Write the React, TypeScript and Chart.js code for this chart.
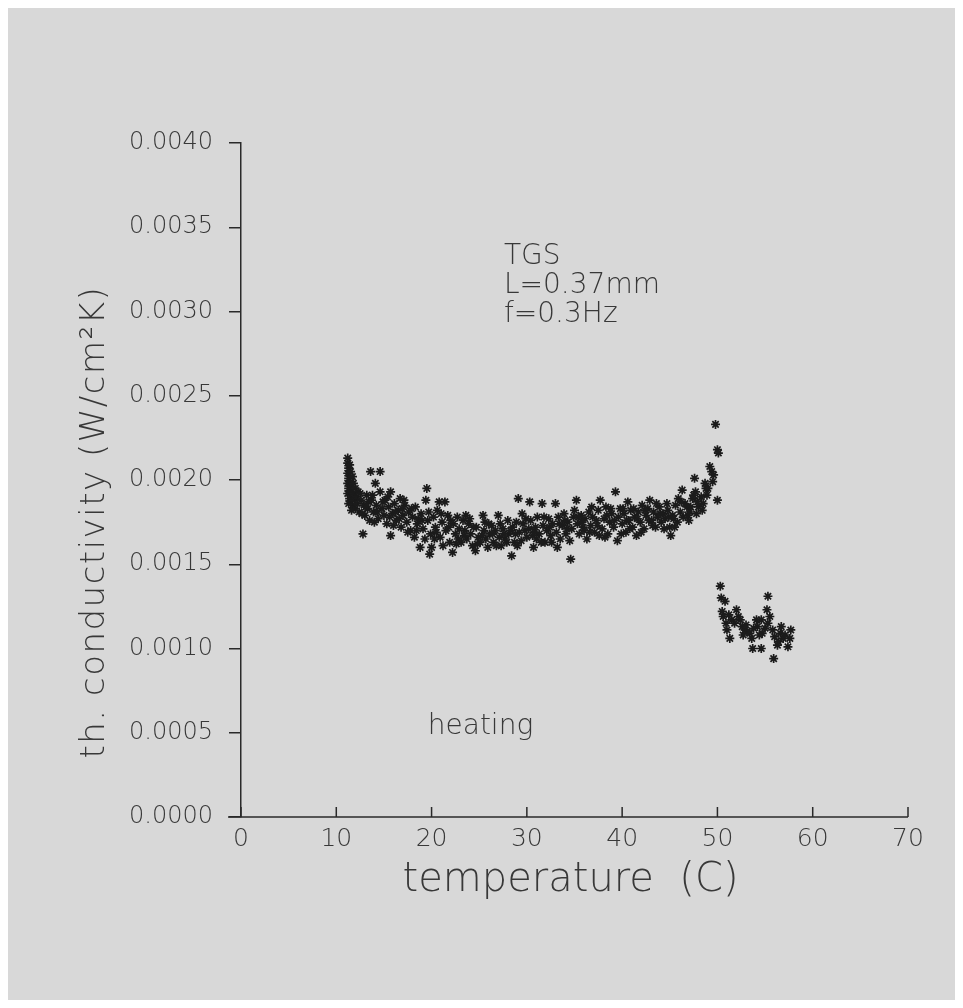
import React, { useEffect, useRef } from 'react';
import { Chart, registerables } from 'chart.js';

Chart.register(...registerables);

// temperature (C), th. conductivity (W/cm^2 K) — heating run, below transition
const heatingBelow: [number, number][] = [
  [11.2, 0.00213], [11.2, 0.0021], [11.3, 0.00207], [11.2, 0.00204], [11.3, 0.00201], [11.2, 0.00198],
  [11.3, 0.00195], [11.2, 0.00192], [11.4, 0.00189], [11.3, 0.00186], [11.4, 0.00209], [11.5, 0.00205],
  [11.5, 0.00199], [11.5, 0.00193], [11.6, 0.00196], [11.6, 0.00189], [11.7, 0.00202], [11.7, 0.00185],
  [11.8, 0.00198], [11.8, 0.00192], [11.9, 0.00188], [12.0, 0.00195], [12.0, 0.00183], [12.1, 0.0019],
  [12.2, 0.00186], [11.6, 0.00182], [12.3, 0.00193], [12.4, 0.00181],
  [12.6, 0.00188], [12.8, 0.00168], [12.9, 0.00185], [13.0, 0.00179], [13.2, 0.00191], [13.3, 0.00183],
  [13.5, 0.00176], [13.6, 0.00205], [13.7, 0.00188], [13.9, 0.00181], [14.1, 0.00198], [14.2, 0.00185],
  [14.4, 0.00177], [14.6, 0.00205], [14.6, 0.00193], [14.8, 0.00183], [15.0, 0.00179], [15.1, 0.00188],
  [15.3, 0.00174], [15.5, 0.00184], [15.7, 0.00193], [15.7, 0.00167], [15.9, 0.0018], [16.1, 0.00186],
  [16.3, 0.00176], [16.5, 0.00182], [16.7, 0.00189], [16.8, 0.00172], [17.0, 0.00179], [17.2, 0.00185],
  [17.4, 0.00175], [17.6, 0.00181], [17.8, 0.0017], [18.0, 0.00178], [18.2, 0.00166], [18.3, 0.00184],
  [18.5, 0.00174], [18.8, 0.0016], [18.9, 0.0018], [19.1, 0.00171], [19.4, 0.00188], [19.5, 0.00195],
  [19.6, 0.00176], [19.8, 0.00156], [19.9, 0.00168], [20.0, 0.0016],
  [20.2, 0.00178], [20.4, 0.00172], [20.6, 0.00182], [20.8, 0.00187], [20.9, 0.00166], [21.1, 0.00175],
  [21.4, 0.00187], [21.5, 0.0017], [21.7, 0.00179], [21.9, 0.00163], [22.2, 0.00157], [22.3, 0.00174],
  [22.5, 0.00168], [22.7, 0.00178], [22.9, 0.00171], [23.1, 0.00163], [23.3, 0.00176], [23.5, 0.0017],
  [23.7, 0.00165], [23.9, 0.00174], [24.1, 0.00168], [24.3, 0.00161], [24.6, 0.00158], [24.7, 0.00172],
  [24.9, 0.00166],
  [25.1, 0.00163], [25.4, 0.00179], [25.5, 0.0017], [25.7, 0.00165], [25.9, 0.0016], [26.1, 0.00168],
  [26.3, 0.00173], [26.5, 0.00163], [26.7, 0.0017], [27.0, 0.00179], [27.1, 0.00166], [27.3, 0.00161],
  [27.5, 0.00171], [27.7, 0.00165], [28.0, 0.00176], [28.1, 0.00168], [28.4, 0.00155], [28.5, 0.00172],
  [28.7, 0.00163], [28.9, 0.00175], [29.1, 0.00189], [29.2, 0.00169], [29.4, 0.00164], [29.6, 0.00174],
  [29.8, 0.0017],
  [30.0, 0.00166], [30.3, 0.00187], [30.4, 0.00176], [30.6, 0.00167], [30.7, 0.0016], [30.9, 0.00172],
  [31.1, 0.00178], [31.3, 0.00168], [31.6, 0.00186], [31.7, 0.00173], [31.9, 0.00163], [32.1, 0.0017],
  [32.3, 0.00177], [32.5, 0.00167], [32.7, 0.00174], [33.0, 0.00186], [33.1, 0.00169], [33.3, 0.00178],
  [33.5, 0.00165], [33.7, 0.00173], [33.9, 0.0018], [34.1, 0.00168], [34.3, 0.00175], [34.6, 0.00153],
  [34.7, 0.00171], [34.9, 0.00178],
  [35.2, 0.00188], [35.3, 0.00174], [35.5, 0.00168], [35.7, 0.00179], [35.9, 0.00172], [36.1, 0.00177],
  [36.3, 0.00165], [36.5, 0.00181], [36.7, 0.00173], [36.9, 0.00178], [37.1, 0.00169], [37.3, 0.00176],
  [37.5, 0.00182], [37.7, 0.00188], [37.9, 0.00171], [38.1, 0.00177], [38.3, 0.00184], [38.5, 0.00168],
  [38.7, 0.00175], [38.9, 0.0018], [39.1, 0.00172], [39.3, 0.00193], [39.5, 0.00164], [39.6, 0.00178],
  [39.8, 0.00183],
  [40.0, 0.00174], [40.2, 0.0018], [40.4, 0.00169], [40.6, 0.00187], [40.7, 0.00176], [40.9, 0.00182],
  [41.1, 0.00172], [41.3, 0.00178], [41.5, 0.00167], [41.7, 0.00181], [41.9, 0.00175], [42.1, 0.00185],
  [42.3, 0.00171], [42.5, 0.00179], [42.7, 0.00183], [42.9, 0.00188], [43.1, 0.00176], [43.3, 0.00181],
  [43.5, 0.00172], [43.7, 0.00178], [43.9, 0.00184], [44.1, 0.00175], [44.3, 0.0018], [44.5, 0.00177],
  [44.8, 0.00182],
  [45.0, 0.00172], [45.1, 0.00167], [45.3, 0.00179], [45.5, 0.00172], [45.6, 0.00185], [45.9, 0.00189],
  [46.1, 0.00181], [46.3, 0.00194], [46.4, 0.00178], [46.6, 0.00186], [46.8, 0.00184], [47.0, 0.00176],
  [47.2, 0.00184], [47.4, 0.00189], [47.5, 0.00191], [47.6, 0.00201], [47.8, 0.0018], [48.0, 0.00184],
  [48.3, 0.0019], [48.5, 0.00186], [48.7, 0.00198], [48.8, 0.00195], [49.0, 0.00195], [49.2, 0.00208],
  [49.4, 0.00205], [49.6, 0.00203], [49.8, 0.00233], [50.0, 0.00218], [50.1, 0.00216], [50.0, 0.00188],
  [12.7, 0.0018], [13.4, 0.00187], [14.0, 0.00175], [15.4, 0.0019], [16.0, 0.00173], [16.9, 0.00183],
  [17.5, 0.00169], [18.6, 0.00177], [19.3, 0.00165], [20.5, 0.00169], [21.2, 0.00161], [22.0, 0.00176],
  [22.8, 0.00165], [23.6, 0.00179], [24.4, 0.00172], [25.3, 0.00167], [26.0, 0.00174], [26.8, 0.00161],
  [27.6, 0.00168], [28.3, 0.0017], [29.0, 0.00161], [29.9, 0.00177], [30.8, 0.00169], [31.5, 0.00163],
  [32.4, 0.00172], [33.2, 0.0016], [34.0, 0.00176], [34.5, 0.00164], [35.0, 0.00182], [35.8, 0.00175],
  [36.6, 0.00169], [37.4, 0.00173], [38.2, 0.00166], [38.8, 0.00183], [39.9, 0.00168], [40.5, 0.00176],
  [41.2, 0.00183], [42.0, 0.00169], [42.8, 0.00176], [43.6, 0.00186], [44.4, 0.00171], [44.9, 0.00178],
  [45.8, 0.00175], [46.9, 0.00179], [47.9, 0.00187], [48.9, 0.00191], [49.5, 0.00199],
  [12.5, 0.00192], [13.1, 0.00184], [13.8, 0.00191], [14.3, 0.00181], [14.9, 0.00187], [15.6, 0.00178],
  [16.2, 0.00181], [16.6, 0.00177], [17.1, 0.00188], [17.9, 0.00183], [18.4, 0.0017], [19.0, 0.00176],
  [19.7, 0.00181], [20.3, 0.00165], [21.0, 0.0018], [21.8, 0.00172], [22.6, 0.00162], [23.4, 0.00167],
  [24.0, 0.00177], [24.8, 0.00162], [25.6, 0.00175], [26.4, 0.00168], [27.2, 0.00174], [27.9, 0.00163],
  [28.8, 0.00168], [29.5, 0.0018], [30.2, 0.00171], [31.0, 0.00165], [31.8, 0.00178], [32.6, 0.00163],
  [33.4, 0.00174], [34.2, 0.00171], [35.4, 0.00178], [36.0, 0.0017], [36.8, 0.00184], [37.6, 0.00167],
  [38.4, 0.00179], [39.2, 0.00176], [40.1, 0.00183], [40.8, 0.00171], [41.6, 0.00177], [42.4, 0.00182],
  [43.2, 0.00173], [44.0, 0.0018], [44.7, 0.00186], [45.4, 0.00177], [46.2, 0.00187], [47.1, 0.00181],
  [47.7, 0.00193], [48.4, 0.00182],
];

// heating run, above transition
const heatingAbove: [number, number][] = [
  [50.3, 0.00137], [50.4, 0.0013], [50.8, 0.00128], [50.5, 0.00122], [50.6, 0.00119], [50.9, 0.00115],
  [51.0, 0.00111], [51.3, 0.00106], [52.0, 0.00123], [51.5, 0.00117], [51.8, 0.00115], [52.4, 0.00117],
  [52.6, 0.00113], [52.9, 0.00111], [53.1, 0.0011], [53.4, 0.00109], [53.6, 0.00106], [53.7, 0.001],
  [54.6, 0.001], [54.1, 0.00117], [54.6, 0.00117], [54.2, 0.00113], [55.3, 0.00131], [55.2, 0.00123],
  [55.5, 0.00119], [55.3, 0.00115], [55.0, 0.00112], [54.7, 0.00109], [55.8, 0.00111], [56.0, 0.00107],
  [56.6, 0.00109], [56.9, 0.00106], [56.3, 0.00102], [56.4, 0.00104], [55.9, 0.00094], [57.4, 0.00101],
  [57.7, 0.00111], [57.6, 0.00106], [52.2, 0.00119], [53.0, 0.00114], [53.8, 0.00112], [54.4, 0.00108],
  [51.2, 0.0012], [52.7, 0.00108], [57.1, 0.00108], [56.7, 0.00113],
];

const xTickValues = [0, 10, 20, 30, 40, 50, 60, 70];
const yTickValues = [0, 0.0005, 0.001, 0.0015, 0.002, 0.0025, 0.003, 0.0035, 0.004];
const xTitle = 'temperature  (C)';
const yTitle = 'th. conductivity (W/cm\u00B2K)';
const infoLines = ['TGS', 'L=0.37mm', 'f=0.3Hz'];
const runLabel = 'heating';

const FONT = "'DejaVu Sans', 'Liberation Sans', sans-serif";
const TEXT = '#383838';
const INK = '#2a2a2a';
const BG = '#d8d8d8';

export default function App() {
  const ref = useRef<HTMLCanvasElement | null>(null);

  useEffect(() => {
    document.body.style.margin = '8px';
    document.body.style.background = '#ffffff';
    const canvas = ref.current;
    if (!canvas) return;

    const decor = {
      id: 'decor',
      beforeDraw(chart: any) {
        const c = chart.ctx;
        c.save();
        c.fillStyle = BG;
        c.fillRect(0, 0, chart.width, chart.height);
        c.restore();
      },
      afterDraw(chart: any) {
        const c = chart.ctx;
        const xs = chart.scales.x;
        const ys = chart.scales.y;
        const area = chart.chartArea;
        c.save();
        // x axis line (extends a little left of the y axis), inward ticks
        c.strokeStyle = INK;
        c.lineWidth = 1.5;
        c.beginPath();
        c.moveTo(area.left - 13, area.bottom);
        c.lineTo(area.right, area.bottom);
        for (const v of xTickValues) {
          const px = xs.getPixelForValue(v);
          c.moveTo(px, area.bottom);
          c.lineTo(px, area.bottom - 10);
        }
        c.stroke();

        c.fillStyle = TEXT;
        // axis titles
        c.font = `200 40px ${FONT}`;
        c.textAlign = 'center';
        c.textBaseline = 'middle';
        c.fillText(xTitle, (area.left + area.right) / 2 - 4, area.bottom + 64);

        c.save();
        c.translate(87, ys.getPixelForValue(0.00175));
        c.rotate(-Math.PI / 2);
        c.font = `200 34px ${FONT}`;
        (c as any).letterSpacing = '1.5px';
        c.fillText(yTitle, 0, 0);
        c.restore();

        // annotations
        c.textAlign = 'left';
        c.textBaseline = 'alphabetic';
        c.font = `200 28px ${FONT}`;
        const ax = xs.getPixelForValue(27.6);
        infoLines.forEach((t, i) => {
          c.fillText(t, ax, ys.getPixelForValue(0.00328) + i * 29);
        });
        c.fillText(runLabel, xs.getPixelForValue(19.6), ys.getPixelForValue(0.00049));
        c.restore();
      },
    };

    const pointStyle = {
      pointStyle: 'star' as const,
      pointRadius: 4.5,
      pointBorderWidth: 1.7,
      pointBorderColor: '#1b1b1b',
      pointBackgroundColor: '#1b1b1b',
      showLine: false,
    };

    const chart = new Chart(canvas, {
      type: 'scatter',
      data: {
        datasets: [
          { label: 'heating below', data: heatingBelow.map(([x, y]) => ({ x, y })), ...pointStyle },
          { label: 'heating above', data: heatingAbove.map(([x, y]) => ({ x, y })), ...pointStyle },
        ],
      },
      options: {
        animation: false,
        responsive: false,
        maintainAspectRatio: false,
        layout: { padding: { left: 0, top: 135, right: 47, bottom: 53 } },
        plugins: { legend: { display: false }, tooltip: { enabled: false } },
        scales: {
          x: {
            type: 'linear',
            min: 0,
            max: 70,
            afterBuildTicks: (s: any) => {
              s.ticks = xTickValues.map((v) => ({ value: v }));
            },
            afterFit: (s: any) => {
              s.height = 130;
            },
            grid: { display: false, drawTicks: false },
            border: { display: false },
            ticks: {
              color: TEXT,
              padding: 7,
              maxRotation: 0,
              font: { family: FONT, size: 25, weight: 200 as any },
              callback: (v: any) => String(v),
            },
          },
          y: {
            type: 'linear',
            min: 0,
            max: 0.004,
            afterBuildTicks: (s: any) => {
              s.ticks = yTickValues.map((v) => ({ value: v }));
            },
            afterFit: (s: any) => {
              s.width = 233;
            },
            grid: {
              drawOnChartArea: false,
              drawTicks: true,
              tickLength: 12,
              color: INK,
              lineWidth: 1.5,
            },
            border: { display: true, color: INK, width: 1.5 },
            ticks: {
              color: TEXT,
              padding: 16,
              font: { family: FONT, size: 24, weight: 200 as any },
              callback: (v: any) => Number(v).toFixed(4),
            },
          },
        },
      },
      plugins: [decor],
    });

    return () => chart.destroy();
  }, []);

  return <canvas ref={ref} width={947} height={992} style={{ display: 'block', width: 947, height: 992 }} />;
}
